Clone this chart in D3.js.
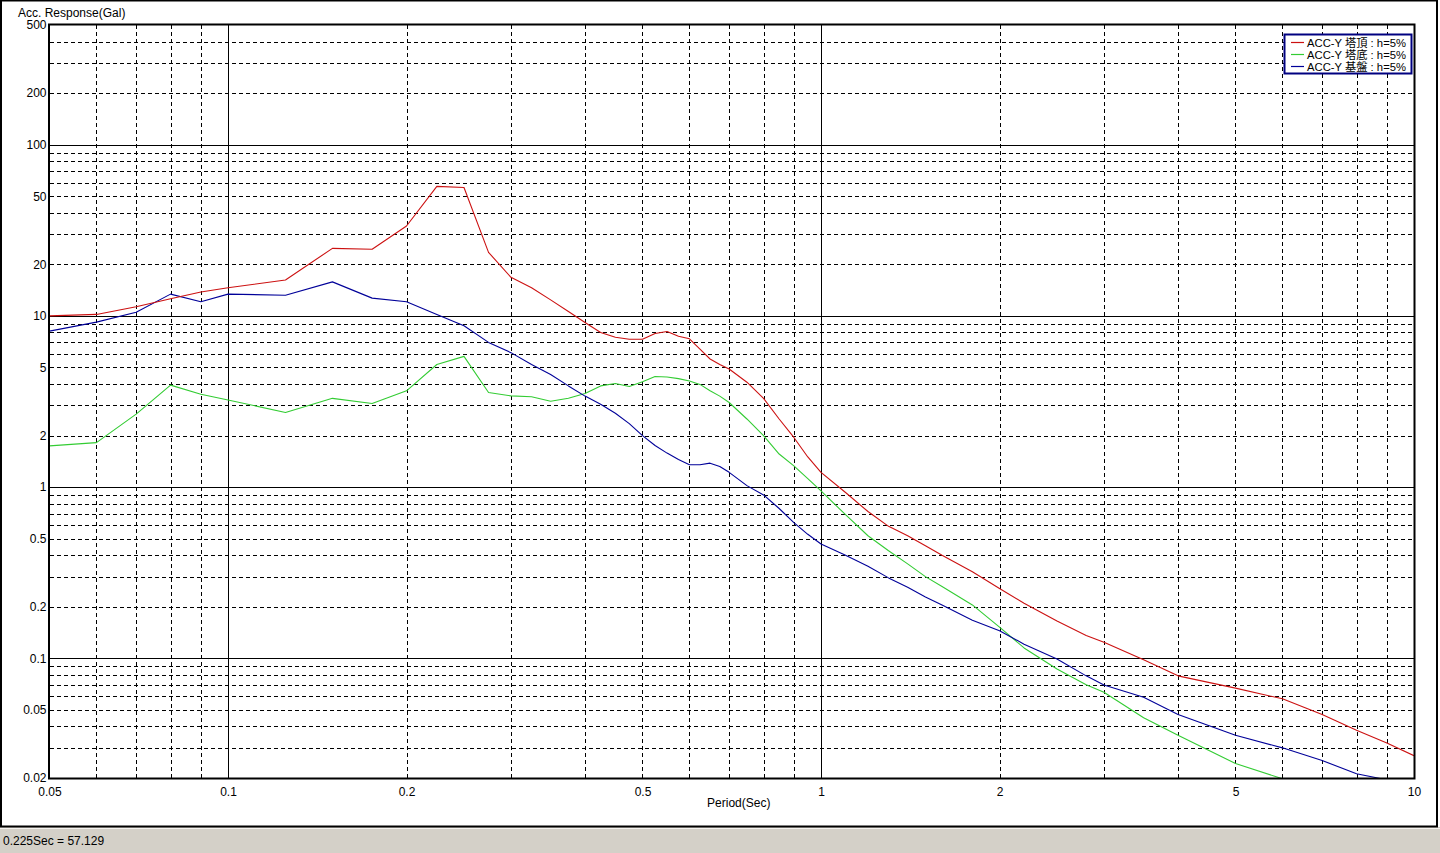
<!DOCTYPE html>
<html>
<head>
<meta charset="utf-8">
<script src="https://cdn.jsdelivr.net/npm/d3@7"></script>
<style>
  html, body { margin: 0; padding: 0; background: #ffffff; }
  svg { display: block; }
  text { font-family: "Liberation Sans", Arial, sans-serif; fill: #000; }
</style>
</head>
<body>
<svg id="chart" width="1440" height="853"></svg>
<script>
// ---- data ----
const periods = [0.05, 0.06, 0.07, 0.08, 0.09, 0.1, 0.125, 0.15, 0.175, 0.2, 0.225, 0.25, 0.275, 0.3, 0.325, 0.35, 0.375, 0.4, 0.425, 0.45, 0.475, 0.5, 0.525, 0.55, 0.575, 0.6, 0.625, 0.65, 0.675, 0.7, 0.75, 0.8, 0.85, 0.9, 0.95, 1.0, 1.1, 1.2, 1.3, 1.4, 1.5, 1.6, 1.8, 2.0, 2.2, 2.5, 2.8, 3.0, 3.5, 4.0, 5.0, 6.0, 7.0, 8.0, 9.0, 10.0];

const topValues = [10.0, 10.2, 11.3, 12.6, 13.8, 14.6, 16.2, 24.8, 24.5, 33.5, 57.1, 56.2, 23.5, 16.8, 14.6, 12.4, 10.6, 9.15, 8.0, 7.5, 7.3, 7.3, 7.9, 8.1, 7.6, 7.35, 6.4, 5.6, 5.2, 4.9, 4.1, 3.3, 2.5, 1.95, 1.5, 1.22, 0.93, 0.72, 0.59, 0.52, 0.455, 0.40, 0.32, 0.256, 0.21, 0.165, 0.136, 0.124, 0.098, 0.079, 0.067, 0.058, 0.047, 0.038, 0.032, 0.027];

const bottomValues = [1.74, 1.82, 2.67, 3.94, 3.49, 3.23, 2.73, 3.30, 3.08, 3.65, 5.2, 5.8, 3.57, 3.41, 3.37, 3.17, 3.30, 3.52, 3.9, 4.03, 3.87, 4.12, 4.43, 4.40, 4.3, 4.17, 3.98, 3.65, 3.4, 3.12, 2.5, 2.0, 1.56, 1.33, 1.12, 0.95, 0.69, 0.52, 0.425, 0.356, 0.30, 0.263, 0.205, 0.152, 0.115, 0.0866, 0.07, 0.0633, 0.045, 0.0355, 0.0243, 0.0198, 0.016, 0.013, 0.011, 0.009];

const baseValues = [8.15, 9.2, 10.5, 13.4, 12.1, 13.4, 13.2, 15.8, 12.7, 12.1, 10.2, 8.75, 7.0, 6.1, 5.2, 4.55, 3.9, 3.4, 3.05, 2.7, 2.35, 2.0, 1.75, 1.58, 1.45, 1.35, 1.35, 1.38, 1.32, 1.22, 1.02, 0.90, 0.75, 0.62, 0.53, 0.465, 0.40, 0.345, 0.295, 0.26, 0.228, 0.205, 0.167, 0.145, 0.121, 0.099, 0.079, 0.0698, 0.0592, 0.047, 0.0355, 0.030, 0.0253, 0.0212, 0.0195, 0.018];

const seriesNames = ["ACC-Y 塔頂 : h=5%", "ACC-Y 塔底 : h=5%", "ACC-Y 基盤 : h=5%"];
const seriesColors = ["#cc1111", "#33cc33", "#000099"];

const xTickLabels = [0.05, 0.1, 0.2, 0.5, 1, 2, 5, 10];
const yTickLabels = [500, 200, 100, 50, 20, 10, 5, 2, 1, 0.5, 0.2, 0.1, 0.05, 0.02];
const xMajor = [0.1, 1];
const yMajor = [0.1, 1, 10, 100];

const yTitle = "Acc. Response(Gal)";
const xTitle = "Period(Sec)";
const statusText = "0.225Sec = 57.129";

// ---- layout ----
const L = 49.5, R = 1414, T = 25, B = 778;
const svg = d3.select("#chart");

const x = d3.scaleLog().domain([0.05, 10]).range([L, R]);
const y = d3.scaleLog().domain([0.02, 500]).range([B, T]);

// outer window frame
svg.append("rect").attr("x", 0).attr("y", 0).attr("width", 1440).attr("height", 853).attr("fill", "#ffffff");
svg.append("rect").attr("x", 0).attr("y", 827).attr("width", 1440).attr("height", 26).attr("fill", "#d4d0c8");
svg.append("line").attr("x1", 0).attr("x2", 1440).attr("y1", 828.5).attr("y2", 828.5).attr("stroke", "#f4f2ee").attr("stroke-width", 1);
svg.append("rect").attr("x", 1).attr("y", 0.5).attr("width", 1436).attr("height", 826)
  .attr("fill", "none").attr("stroke", "#000").attr("stroke-width", 2);

// grid values
function allMultiples(lo, hi) {
  const out = [];
  for (let e = -3; e <= 3; e++) {
    for (let m = 1; m <= 9; m++) {
      const v = +(m * Math.pow(10, e)).toPrecision(6);
      if (v > lo * 1.0001 && v < hi * 0.9999) out.push(v);
    }
  }
  return out;
}
const xGrid = allMultiples(0.05, 10);
const yGrid = allMultiples(0.02, 500);
const isMajor = (arr, v) => arr.some(m => Math.abs(m - v) / m < 1e-6);

// vertical grid via axis
const gx = svg.append("g").attr("transform", `translate(0,${T})`)
  .call(d3.axisBottom(x).tickValues(xGrid).tickSize(B - T).tickFormat(""));
gx.select(".domain").remove();
gx.selectAll(".tick line")
  .attr("stroke", "#000").attr("stroke-width", 1).attr("shape-rendering", "crispEdges")
  .attr("stroke-dasharray", d => isMajor(xMajor, d) ? null : "4,3");

// horizontal grid via axis
const gy = svg.append("g").attr("transform", `translate(${L},0)`)
  .call(d3.axisRight(y).tickValues(yGrid).tickSize(R - L).tickFormat(""));
gy.select(".domain").remove();
gy.selectAll(".tick line")
  .attr("stroke", "#000").attr("stroke-width", 1).attr("shape-rendering", "crispEdges")
  .attr("stroke-dasharray", d => isMajor(yMajor, d) ? null : "4,3");

// series
const clip = svg.append("clipPath").attr("id", "plotclip");
clip.append("rect").attr("x", L).attr("y", T).attr("width", R - L).attr("height", B - T);

const allSeries = [topValues, bottomValues, baseValues];
const line = d3.line().x(d => x(d[0])).y(d => y(d[1]));
const order = [1, 2, 0]; // draw green, blue, then red
order.forEach(i => {
  const pts = periods.map((p, k) => [p, allSeries[i][k]]);
  svg.append("path").datum(pts)
    .attr("clip-path", "url(#plotclip)")
    .attr("fill", "none").attr("stroke", seriesColors[i]).attr("stroke-width", 1.1)
    .attr("stroke-linejoin", "round")
    .attr("d", line);
});

// plot frame
svg.append("rect").attr("x", L - 0.5).attr("y", T - 0.5).attr("width", R - L + 1).attr("height", B - T + 1)
  .attr("fill", "none").attr("stroke", "#000").attr("stroke-width", 2);

// axis labels via d3 axes
const axX = svg.append("g").attr("transform", `translate(0,${B})`)
  .call(d3.axisBottom(x).tickValues(xTickLabels).tickSize(0).tickPadding(9).tickFormat(d => String(d)));
axX.select(".domain").remove();
axX.selectAll("text").attr("font-size", 12).attr("font-family", "Liberation Sans, Arial, sans-serif").attr("fill", "#000");

const axY = svg.append("g").attr("transform", `translate(${L - 3},0)`)
  .call(d3.axisLeft(y).tickValues(yTickLabels).tickSize(0).tickPadding(0).tickFormat(d => String(d)));
axY.select(".domain").remove();
axY.selectAll("text").attr("font-size", 12).attr("font-family", "Liberation Sans, Arial, sans-serif").attr("fill", "#000");

// titles
svg.append("text").attr("x", 18).attr("y", 17).attr("font-size", 12).text(yTitle);
svg.append("text").attr("x", (L + R) / 2 + 7).attr("y", 807).attr("text-anchor", "middle").attr("font-size", 12).text(xTitle);

// legend
const lg = svg.append("g");
lg.append("rect").attr("x", 1284.5).attr("y", 34.5).attr("width", 127).attr("height", 39)
  .attr("fill", "#fff").attr("stroke", "#000080").attr("stroke-width", 2);
seriesNames.forEach((name, i) => {
  const yy = 42.5 + i * 12;
  lg.append("line").attr("x1", 1291).attr("x2", 1304).attr("y1", yy).attr("y2", yy)
    .attr("stroke", seriesColors[i]).attr("stroke-width", 1.2);
  lg.append("text").attr("x", 1307).attr("y", yy + 4)
    .attr("font-size", 11)
    .attr("textLength", 99).attr("lengthAdjust", "spacingAndGlyphs")
    .style("font-family", "'Liberation Sans', 'Noto Sans CJK JP', sans-serif")
    .text(name);
});

// status bar text
svg.append("text").attr("x", 3).attr("y", 845).attr("font-size", 12).text(statusText);
</script>
</body>
</html>
